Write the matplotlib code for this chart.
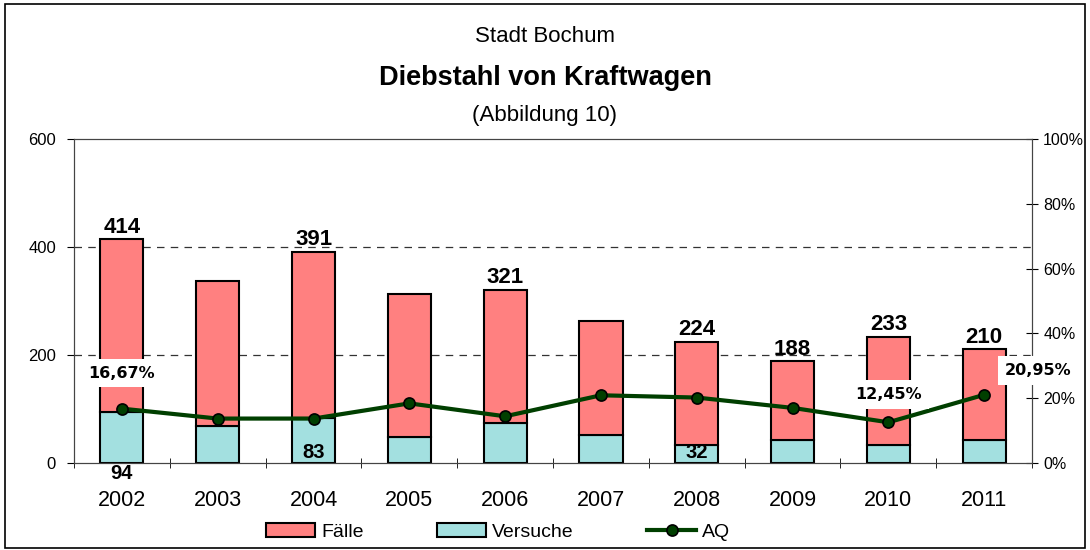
import matplotlib.pyplot as plt
import numpy as np

plt.rcParams['font.family'] = ['Liberation Sans', 'DejaVu Sans']

jahre = ['2002', '2003', '2004', '2005', '2006', '2007', '2008', '2009', '2010', '2011']
faelle = [414, 337, 391, 313, 321, 263, 224, 188, 233, 210]
versuche = [94, 68, 83, 48, 73, 52, 32, 41, 33, 41]
aq = [16.67, 13.6, 13.6, 18.3, 14.3, 20.8, 20.1, 16.9, 12.45, 20.95]

# welche Werte beschriftet werden
faelle_label = [True, False, True, False, True, False, True, True, True, True]
versuche_label = {0: '94', 2: '83', 6: '32'}
aq_label = {0: '16,67%', 8: '12,45%', 9: '20,95%'}

rot = '#FF8080'
tuerkis = '#A3E0E0'
gruen = '#003F00'

fig = plt.figure(figsize=(10.9, 5.5), dpi=100)
ax = fig.add_axes([0.0679, 0.159, 0.879, 0.588])

x = np.arange(len(jahre))
breite = 0.45
rest = [f - v for f, v in zip(faelle, versuche)]
ax.bar(x, versuche, breite, color=tuerkis, edgecolor='black', linewidth=1.5, label='Versuche', zorder=2)
ax.bar(x, rest, breite, bottom=versuche, color=rot, edgecolor='black', linewidth=1.5, label='Fälle', zorder=2)

ax.set_xlim(-0.5, len(jahre) - 0.5)
ax.set_ylim(0, 600)
ax.set_yticks([0, 200, 400, 600])
ax.tick_params(axis='y', labelsize=12, direction='out', length=5, pad=8)
ax.set_xticks(x)
ax.set_xticklabels(jahre, fontsize=15.5)
ax.set_xticks(np.arange(len(jahre) + 1) - 0.5, minor=True)
ax.tick_params(axis='x', which='major', length=0, pad=20)
ax.tick_params(axis='x', which='minor', length=7, direction='inout')
for y in [200, 400]:
    ax.axhline(y, color='#333333', linestyle=(0, (6, 5)), linewidth=0.9, zorder=1)
for s in ax.spines.values():
    s.set_color('#444444')

for i, f in enumerate(faelle):
    if faelle_label[i]:
        ax.text(i, f + 3, str(f), ha='center', va='bottom', fontsize=16, fontweight='bold', zorder=5)
for i, t in versuche_label.items():
    if i == 0:
        ax.text(i, -2, t, ha='center', va='top', fontsize=14.5, fontweight='bold', zorder=5)
    else:
        ax.text(i, 1, t, ha='center', va='bottom', fontsize=14.5, fontweight='bold', zorder=5)

ax2 = ax.twinx()
ax2.set_ylim(0, 100)
ax2.set_yticks([0, 20, 40, 60, 80, 100])
ax2.set_yticklabels(['0%', '20%', '40%', '60%', '80%', '100%'])
ax2.tick_params(axis='y', labelsize=11.5, direction='inout', length=8, pad=4)
ax2.plot(x, aq, color=gruen, linewidth=3, marker='o', markersize=8,
         markerfacecolor=gruen, markeredgecolor='black', markeredgewidth=1.2, label='AQ', zorder=4)
for s in ax2.spines.values():
    s.set_color('#444444')

versatz = {0: (0, 11), 8: (0, 8.5), 9: (0.56, 7.5)}
for i, t in aq_label.items():
    dx, dy = versatz[i]
    ax2.text(i + dx, aq[i] + dy, t, ha='center', va='center', fontsize=11.5, fontweight='bold',
             family='DejaVu Sans',
             bbox=dict(facecolor='white', edgecolor='none', pad=5), zorder=6)

fig.text(0.5, 0.933, 'Stadt Bochum', ha='center', va='center', fontsize=16)
fig.text(0.5, 0.858, 'Diebstahl von Kraftwagen', ha='center', va='center', fontsize=19.5, fontweight='bold')
fig.text(0.5, 0.79, '(Abbildung 10)', ha='center', va='center', fontsize=16)

h1, l1 = ax.get_legend_handles_labels()
h2, l2 = ax2.get_legend_handles_labels()
fig.legend([h1[1], h1[0], h2[0]], [l1[1], l1[0], l2[0]], loc='center', bbox_to_anchor=(0.457, 0.033),
           ncol=3, frameon=False, fontsize=14, columnspacing=3.8, handlelength=2.5, handletextpad=0.3)

rahmen = plt.Rectangle((0.005, 0.003), 0.99, 0.99, transform=fig.transFigure, fill=False,
                       edgecolor='black', linewidth=1.2)
fig.patches.append(rahmen)

plt.savefig('out.png')
